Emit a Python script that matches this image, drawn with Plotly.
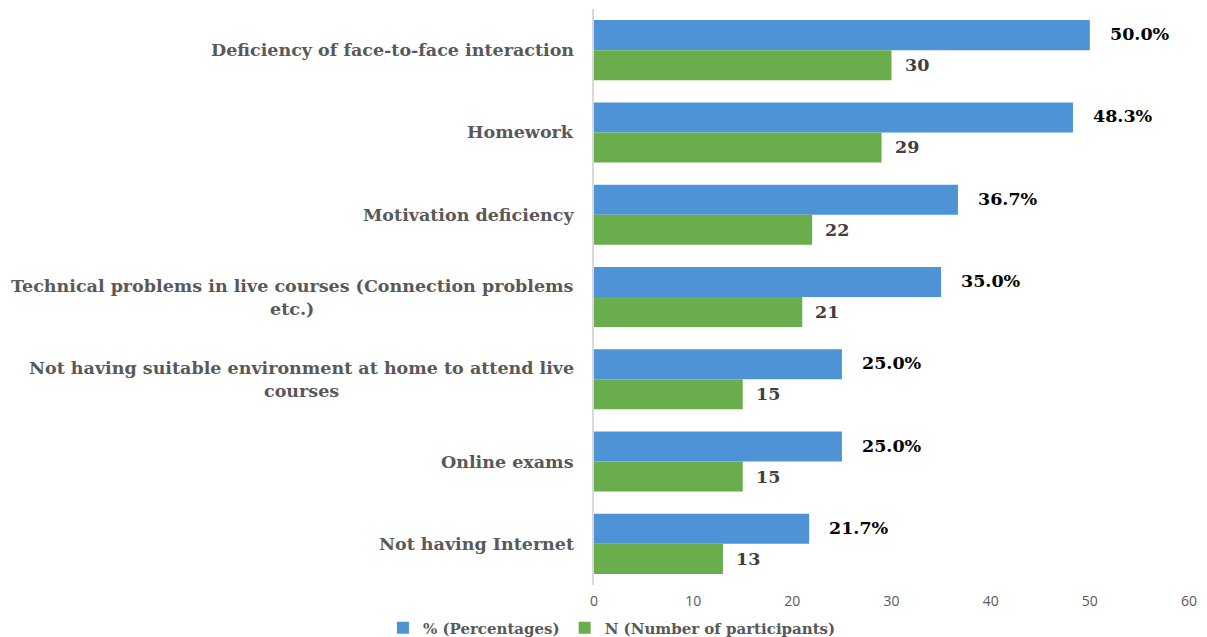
import plotly.graph_objects as go

categories = [
    "Deficiency of face-to-face interaction",
    "Homework",
    "Motivation deficiency",
    "Technical problems in live courses (Connection problems<br>etc.)",
    "Not having suitable environment at home to attend live<br>courses",
    "Online exams",
    "Not having Internet",
]
percentages = [50.0, 48.3, 36.7, 35.0, 25.0, 25.0, 21.7]
participants = [30, 29, 22, 21, 15, 15, 13]
x_ticks = [0, 10, 20, 30, 40, 50, 60]

series_names = ["% (Percentages)", "N (Number of participants)"]
BLUE = "#4d93d6"
GREEN = "#6aad4c"
SERIF = "DejaVu Serif"

fig = go.Figure()
fig.add_trace(go.Bar(
    y=categories, x=percentages, orientation="h", name=f"<b>{series_names[0]}</b>",
    marker=dict(color=BLUE, line=dict(width=0)),
))
fig.add_trace(go.Bar(
    y=categories, x=participants, orientation="h", name=f"<b>{series_names[1]}</b>",
    marker=dict(color=GREEN, line=dict(width=0)),
))

annotations = []
for cat, p, n in zip(categories, percentages, participants):
    annotations.append(dict(
        x=p, y=cat, xref="x", yref="y", text=f"<b>{p:.1f}%</b>",
        showarrow=False, xanchor="left", yanchor="middle", xshift=18, yshift=16,
        font=dict(family=SERIF, size=17.5, color="#000000"),
    ))
    annotations.append(dict(
        x=n, y=cat, xref="x", yref="y", text=f"<b>{n}</b>",
        showarrow=False, xanchor="left", yanchor="middle", xshift=11, yshift=-15,
        font=dict(family=SERIF, size=17.5, color="#404040"),
    ))
    annotations.append(dict(
        x=0, y=cat, xref="paper", yref="y", text=f"<b>{cat}</b>",
        showarrow=False, xanchor="right", yanchor="middle", xshift=-18, align="center",
        font=dict(family=SERIF, size=17.5, color="#595959"),
    ))

fig.update_layout(
    width=1207, height=637,
    margin=dict(l=594, r=18, t=9, b=52, autoexpand=False),
    paper_bgcolor="white", plot_bgcolor="white",
    barmode="group", bargap=0.27, bargroupgap=0,
    showlegend=True,
    legend=dict(
        orientation="h", xref="container", yref="container",
        x=0.507, xanchor="center", y=0.014, yanchor="middle",
        font=dict(family=SERIF, size=15, color="#595959"),
        traceorder="normal",
    ),
    annotations=annotations,
    xaxis=dict(
        range=[0, 60], tickvals=x_ticks, showgrid=False, zeroline=False,
        showline=False, ticks="", automargin=False, ticklabelstandoff=6,
        tickfont=dict(family="Open Sans", size=14, color="#595959"),
    ),
    yaxis=dict(
        autorange="reversed", showticklabels=False, showgrid=False, zeroline=False,
        showline=True, linecolor="#d9d9d9", linewidth=2, ticks="", automargin=False,
    ),
)

fig.write_html(
    "out.html",
    config={"displayModeBar": False},
    post_script="document.body.style.margin='0';document.body.style.padding='0';",
)
